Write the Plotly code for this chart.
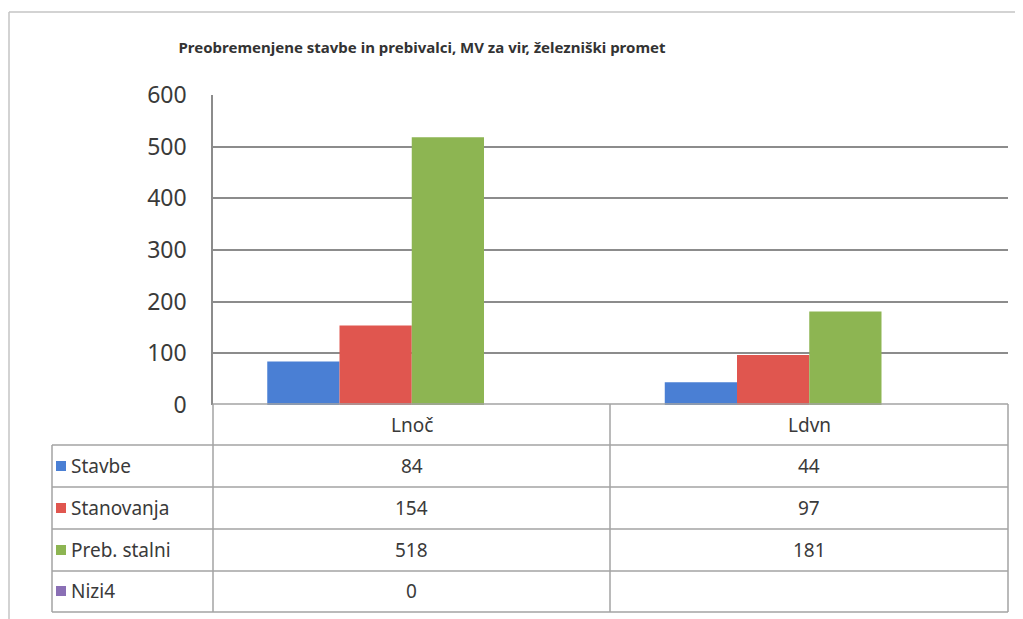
import plotly.graph_objects as go

# data
categories = ["Lnoč", "Ldvn"]
series_names = ["Stavbe", "Stanovanja", "Preb. stalni", "Nizi4"]
stavbe = [84, 44]
stanovanja = [154, 97]
preb_stalni = [518, 181]
nizi4 = [0, None]
y_ticks = [0, 100, 200, 300, 400, 500, 600]

colors = ["#4a7fd4", "#e0564f", "#8db552", "#8a6fb5"]
W, H = 1023, 619
OFF = 8  # page body margin
font = "Noto Sans"


def px(x):
    return (x - OFF) / W


def py(y):
    return 1 - (y - OFF) / H


fig = go.Figure()
for name, vals, col in zip(series_names, [stavbe, stanovanja, preb_stalni, nizi4], colors):
    fig.add_trace(go.Bar(x=categories, y=vals, name=name, marker_color=col,
                         marker_line_width=0))

# table geometry (pixels in the reference)
row_lines = [445, 487, 529, 571, 612]
row_centers = [466, 508, 550, 591]
line_col = "#a3a3a3"
shapes = []
shapes.append(dict(type="line", xref="paper", yref="paper", x0=px(213), x1=px(1008),
                   y0=py(404), y1=py(404), line=dict(color=line_col, width=1.5)))
for yl in row_lines:
    shapes.append(dict(type="line", xref="paper", yref="paper", x0=px(52), x1=px(1008),
                       y0=py(yl), y1=py(yl), line=dict(color=line_col, width=1.5)))
shapes.append(dict(type="line", xref="paper", yref="paper", x0=px(52), x1=px(52),
                   y0=py(445), y1=py(612), line=dict(color=line_col, width=1.5)))
for xl in [213, 610, 1008]:
    shapes.append(dict(type="line", xref="paper", yref="paper", x0=px(xl), x1=px(xl),
                       y0=py(404), y1=py(612), line=dict(color=line_col, width=1.5)))
# outer chart frame
shapes.append(dict(type="line", xref="paper", yref="paper", x0=px(9), x1=px(9),
                   y0=py(12), y1=0, line=dict(color="#c4c4c4", width=1.5)))
shapes.append(dict(type="line", xref="paper", yref="paper", x0=px(9), x1=1,
                   y0=py(12), y1=py(12), line=dict(color="#c4c4c4", width=1.5)))

annotations = []
txt_font = dict(family=font, size=19, color="#3a3a3a")
# category header row
for c in categories:
    annotations.append(dict(x=c, xref="x", y=py(425), yref="paper", yanchor="middle",
                            text=c, showarrow=False, font=txt_font))
# series rows with legend keys
for name, vals, col, yc in zip(series_names, [stavbe, stanovanja, preb_stalni, nizi4],
                               colors, row_centers):
    shapes.append(dict(type="rect", xref="paper", yref="paper",
                       x0=px(56), x1=px(66), y0=py(yc + 5), y1=py(yc - 5),
                       fillcolor=col, line_width=0))
    annotations.append(dict(x=px(69), xref="paper", y=py(yc), yref="paper",
                            xanchor="left", yanchor="middle", showarrow=False,
                            text=name, font=txt_font))
    for c, v in zip(categories, vals):
        if v is None:
            continue
        annotations.append(dict(x=c, xref="x", y=py(yc), yref="paper", yanchor="middle",
                                text=str(v), showarrow=False, font=txt_font))

fig.update_layout(
    width=W, height=H,
    margin=dict(l=0, r=0, t=0, b=0, autoexpand=False),
    paper_bgcolor="white", plot_bgcolor="white",
    title=dict(text="<b>Preobremenjene stavbe in prebivalci, MV za vir, železniški promet</b>",
               x=px(422), xanchor="center", y=py(48), yanchor="middle",
               font=dict(family=font, size=15, color="#333333")),
    showlegend=False,
    barmode="group", bargap=0.273, bargroupgap=0,
    xaxis=dict(domain=[px(213), px(1008)], range=[-0.5, 1.5], showticklabels=False,
               showgrid=False, zeroline=False, showline=False, automargin=False),
    yaxis=dict(domain=[py(405), py(95)], range=[0, 600], tickvals=y_ticks,
               showgrid=True, gridcolor="#8c8c8c", gridwidth=1.5, zeroline=False,
               showline=True, linecolor="#8c8c8c", linewidth=1.5,
               ticks="", ticklabelstandoff=20, automargin=False,
               tickfont=dict(family=font, size=23, color="#3a3a3a")),
    shapes=shapes,
    annotations=annotations,
)

fig.write_html("out.html")
